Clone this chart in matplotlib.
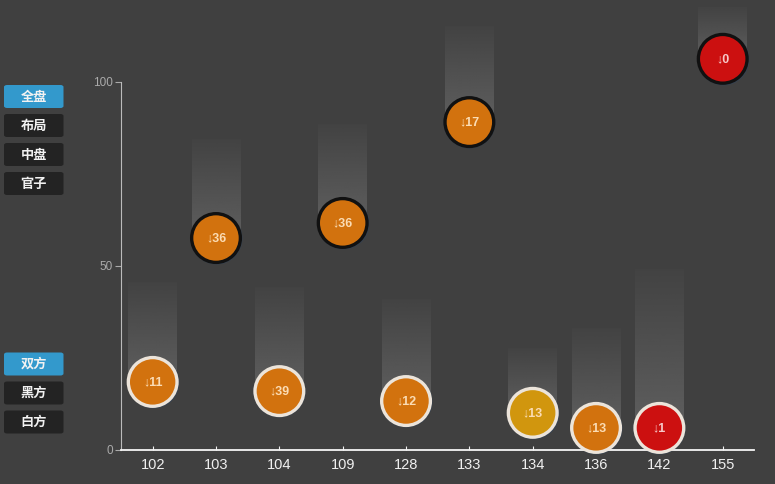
import numpy as np
import matplotlib.pyplot as plt
from matplotlib.patches import FancyBboxPatch

plt.rcParams['font.family'] = ['Liberation Sans', 'DejaVu Sans']

cats = ['102', '103', '104', '109', '128', '133', '134', '136', '142', '155']
values = [18.5, 57.6, 16.0, 61.7, 13.3, 89.1, 10.1, 6.0, 6.0, 106.3]
drops = [11, 36, 39, 36, 12, 17, 13, 13, 1, 0]
bar_tops = [45.5, 84.5, 44.0, 88.5, 41.0, 115.0, 27.5, 33.0, 49.0, 120.4]
fills = ['#d2720e', '#d2720e', '#d2720e', '#d2720e', '#d2720e', '#d2720e',
         '#d1960e', '#d2720e', '#cc1010', '#cc1010']
buttons_top = ['全盘', '布局', '中盘', '官子']
buttons_bottom = ['双方', '黑方', '白方']

bg = '#404040'
W, H = 775, 484
fig = plt.figure(figsize=(W / 100, H / 100), dpi=100, facecolor=bg)
ax = fig.add_axes([121 / W, (H - 450) / H, (754.4 - 121) / W, 368 / H])
ax.set_facecolor(bg)
x = np.arange(len(cats))
ax.set_xlim(-0.5, len(cats) - 0.5)
ax.set_ylim(0, 100)

# gradient shadow bars, light at the bottom, fading upward
grad = np.linspace(1, 0, 64).reshape(-1, 1)
for i in x:
    img = np.zeros((64, 1, 4))
    img[..., :3] = 0x66 / 255
    img[..., 3] = 0.08 + 0.72 * grad
    ax.imshow(img, extent=(i - 0.385, i + 0.385, values[i], bar_tops[i]),
              aspect='auto', origin='lower', zorder=1, clip_on=False,
              interpolation='bilinear')

edges = ['#111111' if v > 50 else '#ece4da' for v in values]
ax.scatter(x, values, s=1400, c='#364250', linewidths=0, zorder=2, clip_on=False)
ax.scatter(x, values, s=1230, c=fills, edgecolors=edges, linewidths=2.4,
           zorder=3, clip_on=False)
for i in x:
    tc = '#f6c8c8' if fills[i] == '#cc1010' else '#fbdcb4'
    ax.text(i, values[i], '↓' + str(drops[i]), ha='center', va='center',
            fontsize=9, fontweight='bold', color=tc, zorder=4, clip_on=False)

ax.set_xticks(x)
ax.set_xticklabels(cats)
ax.set_yticks([0, 50, 100])
ax.tick_params(axis='x', direction='in', length=3, colors='#f0f0f0',
               labelsize=10.5, pad=6)
ax.tick_params(axis='y', direction='out', length=4, colors='#aaaaaa',
               labelsize=8.5, pad=2)
for lab in ax.get_yticklabels():
    lab.set_color('#aaaaaa')
for lab in ax.get_xticklabels():
    lab.set_color('#f0f0f0')
ax.spines['top'].set_visible(False)
ax.spines['right'].set_visible(False)
ax.spines['left'].set_color('#bbbbbb')
ax.spines['bottom'].set_color('#f5f5f5')
ax.spines['bottom'].set_linewidth(1.3)

# side buttons
def button(label, top, active):
    x0, x1 = 4, 63.5
    y0 = H - top - 23
    p = FancyBboxPatch((x0 / W, y0 / H), (x1 - x0) / W, 23 / H,
                       boxstyle='round,pad=0,rounding_size=0.004',
                       transform=fig.transFigure,
                       facecolor='#3399cc' if active else '#232323',
                       edgecolor='none')
    fig.patches.append(p)
    fig.text((x0 + x1) / 2 / W, (y0 + 11.5) / H, label, ha='center', va='center',
             fontsize=9.5, fontweight='bold', color='#f2f2f2',
             family=['Noto Sans CJK SC', 'DejaVu Sans'])

for j, t in enumerate(buttons_top):
    button(t, 85 + j * 29, j == 0)
for j, t in enumerate(buttons_bottom):
    button(t, 352.5 + j * 29, j == 0)

fig.savefig('out.png', dpi=100, facecolor=bg)
